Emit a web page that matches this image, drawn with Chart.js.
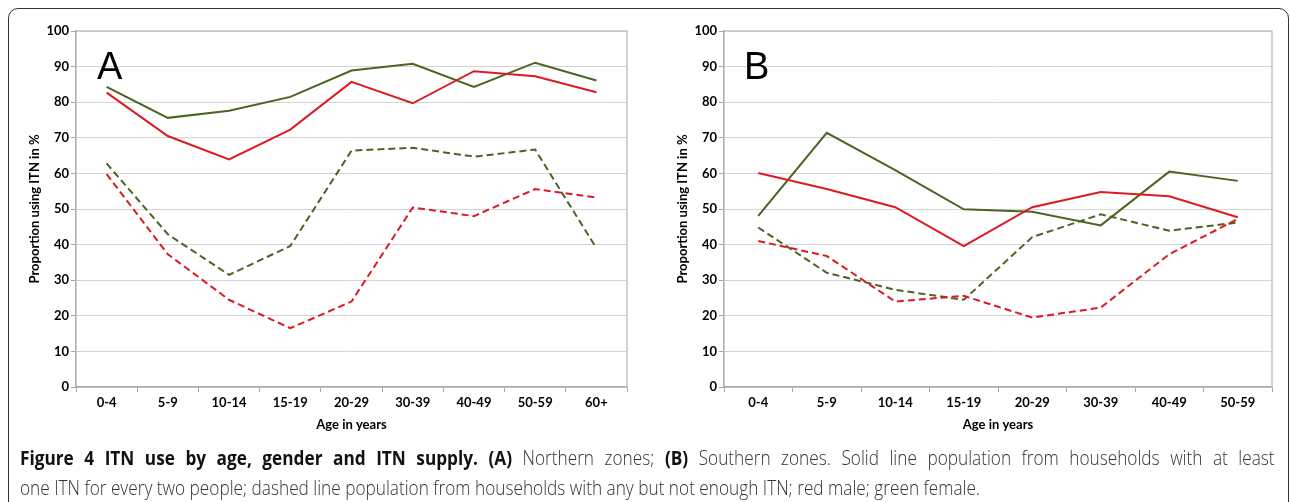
<!DOCTYPE html>
<html lang="en">
  <head>
    <meta charset="UTF-8" />
    <title>Figure 4 ITN use by age, gender and ITN supply</title>
    <script src="https://cdn.jsdelivr.net/npm/chart.js"></script>
    <style>
      body {
        margin: 0;
        width: 1290px;
        height: 502px;
        overflow: hidden;
        background: #fff;
        position: relative;
        font-family: "Open Sans", sans-serif;
      }
      .moldura {
        position: absolute;
        left: 8px;
        top: 8px;
        width: 1281px;
        height: 600px;
        border: 1.5px solid #333;
        border-radius: 10px;
        box-sizing: border-box;
      }
      .painel {
        position: absolute;
        top: 0;
        width: 645px;
        height: 445px;
      }
      .letra {
        position: absolute;
        font-family: "Liberation Sans", Arial, sans-serif;
        font-size: 38px;
        line-height: 38px;
        color: #000;
      }
      .legenda {
        position: absolute;
        left: 20px;
        font-size: 20px;
        line-height: 30px;
        white-space: nowrap;
        color: #333;
        transform-origin: left center;
      }
      .legenda b {
        font-weight: 700;
        color: #111;
      }
      .legenda span {
        font-weight: 300;
      }
    </style>
  </head>
  <body>
    <div class="moldura"></div>

    <div class="painel" style="left: 0"><canvas id="graficoA"></canvas></div>
    <div class="painel" style="left: 645px"><canvas id="graficoB"></canvas></div>

    <div class="letra" style="left: 97px; top: 47px">A</div>
    <div class="letra" style="left: 744px; top: 47px">B</div>

    <div class="legenda" id="linha1" style="top: 443px"><b>Figure 4 ITN use by age, gender and ITN supply. (A)</b><span> Northern zones; </span><b>(B)</b><span> Southern zones. Solid line population from households with at least</span></div>
    <div class="legenda" id="linha2" style="top: 473px"><span>one ITN for every two people; dashed line population from households with any but not enough ITN; red male; green female.</span></div>

    <script>
      // faixas etarias
      const idadesA = ["0-4", "5-9", "10-14", "15-19", "20-29", "30-39", "40-49", "50-59", "60+"];
      const idadesB = ["0-4", "5-9", "10-14", "15-19", "20-29", "30-39", "40-49", "50-59"];

      // A - zonas do norte
      const norteHomemSuficiente = [82.7, 70.5, 63.9, 72.3, 85.7, 79.7, 88.7, 87.3, 82.8];
      const norteMulherSuficiente = [84.3, 75.6, 77.6, 81.5, 88.9, 90.8, 84.3, 91.1, 86.1];
      const norteHomemInsuficiente = [59.8, 37.3, 24.5, 16.5, 24.0, 50.4, 48.0, 55.6, 53.2];
      const norteMulherInsuficiente = [62.8, 42.9, 31.5, 39.6, 66.4, 67.2, 64.7, 66.7, 39.0];

      // B - zonas do sul
      const sulHomemSuficiente = [60.1, 55.6, 50.5, 39.6, 50.5, 54.8, 53.6, 47.7];
      const sulMulherSuficiente = [48.1, 71.4, 60.9, 49.9, 49.2, 45.4, 60.5, 57.9];
      const sulHomemInsuficiente = [41.0, 36.8, 24.0, 25.6, 19.5, 22.3, 37.3, 47.2];
      const sulMulherInsuficiente = [44.8, 32.1, 27.3, 24.5, 42.1, 48.5, 43.9, 46.2];

      const vermelho = "#dc1a22";
      const verde = "#4a6423";
      const fonteEixo = { family: "Lato, 'Open Sans', sans-serif", size: 13, weight: "bold" };
      const fonteTitulo = { family: "Lato, 'Open Sans', sans-serif", size: 13, weight: "bold" };

      // borda clara em cima e na direita da area do grafico
      const bordaArea = {
        id: "bordaArea",
        beforeDatasetsDraw(chart) {
          const { ctx, chartArea } = chart;
          ctx.save();
          ctx.strokeStyle = "#c4c4c4";
          ctx.lineWidth = 1.5;
          ctx.beginPath();
          ctx.moveTo(chartArea.left, chartArea.top);
          ctx.lineTo(chartArea.right, chartArea.top);
          ctx.lineTo(chartArea.right, chartArea.bottom);
          ctx.stroke();
          ctx.restore();
        },
      };

      function linha(dados, cor, tracejada) {
        return {
          data: dados,
          borderColor: cor,
          backgroundColor: cor,
          borderWidth: 2,
          borderDash: tracejada ? [7, 4] : [],
          pointRadius: 0,
          tension: 0,
          fill: false,
        };
      }

      function plotarGrafico(id, labels, series, esquerda, direita, tituloX) {
        const ctx = document.getElementById(id).getContext("2d");
        return new Chart(ctx, {
          type: "line",
          data: {
            labels: labels,
            datasets: [
              linha(series[0], vermelho, true),
              linha(series[1], verde, true),
              linha(series[2], vermelho, false),
              linha(series[3], verde, false),
            ],
          },
          plugins: [bordaArea],
          options: {
            responsive: true,
            maintainAspectRatio: false,
            animation: false,
            layout: { padding: { top: 31, right: direita, left: 0, bottom: 0 } },
            plugins: {
              legend: { display: false },
              tooltip: { enabled: false },
            },
            scales: {
              x: {
                offset: true,
                border: { color: "#a8a8a8", width: 1.5 },
                grid: {
                  offset: true,
                  drawOnChartArea: false,
                  tickLength: 5,
                  tickColor: "#a8a8a8",
                },
                ticks: { color: "#000", font: fonteEixo, padding: 3, maxRotation: 0, autoSkip: false },
                title: {
                  display: true,
                  text: "Age in years",
                  color: "#000",
                  font: fonteTitulo,
                  padding: { top: 0, bottom: 12 },
                },
                afterFit(scale) {
                  scale.height = 58;
                },
              },
              y: {
                min: 0,
                max: 100,
                border: { color: "#a8a8a8", width: 1.5 },
                grid: {
                  color: "#d4d4d4",
                  borderDash: [1, 2],
                  tickLength: 5,
                  tickColor: "#a8a8a8",
                  tickBorderDash: [],
                },
                ticks: { stepSize: 10, color: "#000", font: fonteEixo, padding: 2 },
                title: {
                  display: true,
                  text: "Proportion using ITN in %",
                  color: "#000",
                  font: fonteTitulo,
                  padding: { top: tituloX, bottom: 0 },
                },
                afterFit(scale) {
                  scale.width = esquerda;
                },
              },
            },
          },
        });
      }

      plotarGrafico(
        "graficoA",
        idadesA,
        [norteHomemInsuficiente, norteMulherInsuficiente, norteHomemSuficiente, norteMulherSuficiente],
        76, 18, 27
      );
      plotarGrafico(
        "graficoB",
        idadesB,
        [sulHomemInsuficiente, sulMulherInsuficiente, sulHomemSuficiente, sulMulherSuficiente],
        79, 18, 30
      );

      // legenda: escala pela segunda linha, primeira linha justificada
      const l1 = document.getElementById("linha1");
      const l2 = document.getElementById("linha2");
      const k = 960 / l2.scrollWidth;
      const espacos = (l1.textContent.match(/ /g) || []).length;
      l1.style.wordSpacing = (1255 / k - l1.scrollWidth) / espacos + "px";
      l1.style.transform = "scaleX(" + k + ")";
      l2.style.transform = "scaleX(" + k + ")";
    </script>
  </body>
</html>
